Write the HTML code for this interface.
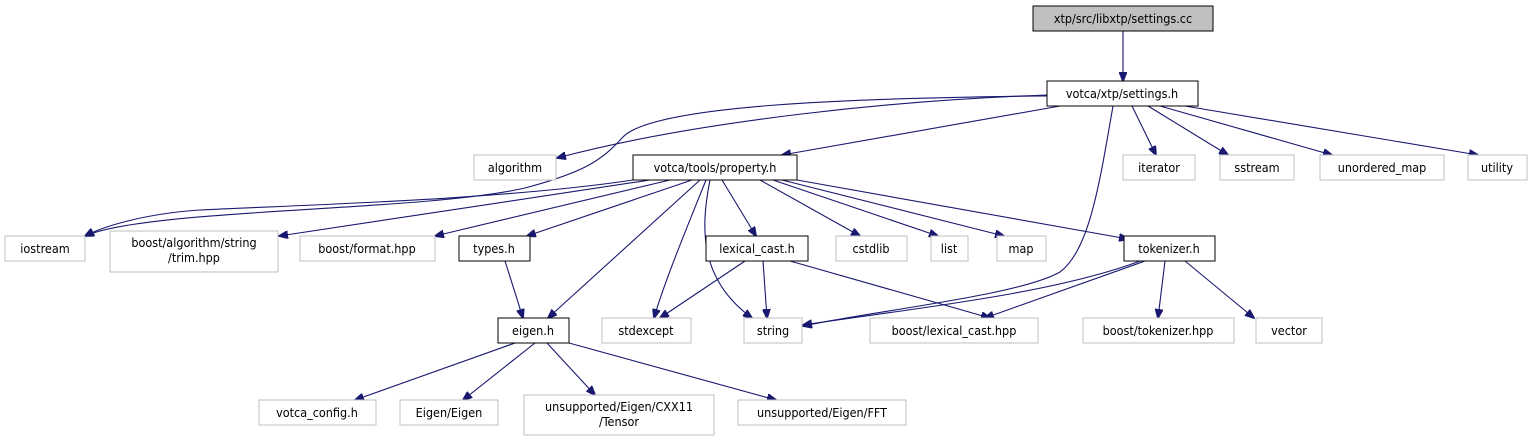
<!DOCTYPE html>
<html><head><meta charset="utf-8"><style>
html,body{margin:0;padding:0;background:#fff;}
svg{display:block;}
text{font-family:"DejaVu Sans Condensed","DejaVu Sans","Liberation Sans",sans-serif;font-size:12.5px;fill:#000;}
.g{fill:#fff;stroke:#bfbfbf;stroke-width:1}
.b{fill:#fff;stroke:#000;stroke-width:1}
.e{fill:none;stroke:#191970;stroke-width:1.1;marker-end:url(#a)}
</style></head><body>
<svg width="1533" height="440" viewBox="0 0 1533 440" xmlns="http://www.w3.org/2000/svg">
<defs><marker id="a" markerWidth="10" markerHeight="8" refX="9" refY="4" orient="auto" markerUnits="userSpaceOnUse"><path d="M0,0 L10,4 L0,8 z" fill="#191970" stroke="#191970"/></marker></defs>
<path class="e" d="M1123,31 L1123,81"/>
<path class="e" d="M1047,95 C900,100 700,120 557,158"/>
<path class="e" d="M1047,96 C850,98 650,105 622,138 C602,160 585,172 525,188 C420,212 150,208 85,236"/>
<path class="e" d="M1060,106 L782,155"/>
<path class="e" d="M1113,106 C1100,180 1090,250 1060,272 C1020,295 880,310 803,326"/>
<path class="e" d="M1132,106 L1156,155"/>
<path class="e" d="M1148,106 L1228,155"/>
<path class="e" d="M1160,106 L1332,155"/>
<path class="e" d="M1185,106 L1478,155"/>
<path class="e" d="M633,180 C500,200 300,205 200,210 C140,214 100,228 85,236"/>
<path class="e" d="M650,180 L279,236"/>
<path class="e" d="M670,180 L435,236"/>
<path class="e" d="M692,180 L527,236"/>
<path class="e" d="M700,180 L548,318"/>
<path class="e" d="M706,180 C690,220 665,280 654,318"/>
<path class="e" d="M710,180 C700,230 700,280 752,318"/>
<path class="e" d="M722,180 L756,236"/>
<path class="e" d="M760,180 L860,236"/>
<path class="e" d="M773,180 L938,236"/>
<path class="e" d="M782,180 L1004,236"/>
<path class="e" d="M797,180 L1128,239"/>
<path class="e" d="M505,261 L523,318"/>
<path class="e" d="M745,261 L660,318"/>
<path class="e" d="M763,261 L767,318"/>
<path class="e" d="M790,261 L990,318"/>
<path class="e" d="M1140,261 C1050,295 900,310 803,325"/>
<path class="e" d="M1145,261 L985,318"/>
<path class="e" d="M1165,261 L1158,318"/>
<path class="e" d="M1185,261 L1254,318"/>
<path class="e" d="M515,343 L355,400"/>
<path class="e" d="M535,343 L463,400"/>
<path class="e" d="M547,343 L595,395"/>
<path class="e" d="M569,343 L776,400"/>
<rect x="1033" y="6" width="180" height="25" fill="#bfbfbf" stroke="#000"/><text x="1123" y="23" text-anchor="middle">xtp/src/libxtp/settings.cc</text>
<rect class="b" x="1047" y="81" width="151" height="25"/><text x="1122" y="98" text-anchor="middle">votca/xtp/settings.h</text>
<rect class="g" x="474" y="155" width="82" height="25"/><text x="515" y="172" text-anchor="middle">algorithm</text>
<rect class="b" x="633" y="155" width="164" height="25"/><text x="715" y="172" text-anchor="middle">votca/tools/property.h</text>
<rect class="g" x="1123" y="155" width="72" height="25"/><text x="1159" y="172" text-anchor="middle">iterator</text>
<rect class="g" x="1220" y="155" width="74" height="25"/><text x="1257" y="172" text-anchor="middle">sstream</text>
<rect class="g" x="1320" y="155" width="124" height="25"/><text x="1382" y="172" text-anchor="middle">unordered_map</text>
<rect class="g" x="1468" y="155" width="59" height="25"/><text x="1497" y="172" text-anchor="middle">utility</text>
<rect class="g" x="5" y="236" width="80" height="25"/><text x="45" y="253" text-anchor="middle">iostream</text>
<rect class="g" x="110" y="231" width="168" height="41"/><text x="194" y="247" text-anchor="middle">boost/algorithm/string</text><text x="194" y="262" text-anchor="middle">/trim.hpp</text>
<rect class="g" x="300" y="236" width="135" height="25"/><text x="367" y="253" text-anchor="middle">boost/format.hpp</text>
<rect class="b" x="459" y="236" width="71" height="25"/><text x="494" y="253" text-anchor="middle">types.h</text>
<rect class="b" x="706" y="236" width="102" height="25"/><text x="757" y="253" text-anchor="middle">lexical_cast.h</text>
<rect class="g" x="836" y="236" width="71" height="25"/><text x="871" y="253" text-anchor="middle">cstdlib</text>
<rect class="g" x="931" y="236" width="37" height="25"/><text x="949" y="253" text-anchor="middle">list</text>
<rect class="g" x="997" y="236" width="49" height="25"/><text x="1021" y="253" text-anchor="middle">map</text>
<rect class="b" x="1124" y="236" width="91" height="25"/><text x="1169" y="253" text-anchor="middle">tokenizer.h</text>
<rect class="b" x="498" y="318" width="71" height="25"/><text x="533" y="335" text-anchor="middle">eigen.h</text>
<rect class="g" x="602" y="318" width="89" height="25"/><text x="646" y="335" text-anchor="middle">stdexcept</text>
<rect class="g" x="744" y="318" width="58" height="25"/><text x="773" y="335" text-anchor="middle">string</text>
<rect class="g" x="870" y="318" width="168" height="25"/><text x="954" y="335" text-anchor="middle">boost/lexical_cast.hpp</text>
<rect class="g" x="1083" y="318" width="151" height="25"/><text x="1158" y="335" text-anchor="middle">boost/tokenizer.hpp</text>
<rect class="g" x="1256" y="318" width="66" height="25"/><text x="1289" y="335" text-anchor="middle">vector</text>
<rect class="g" x="259" y="400" width="117" height="25"/><text x="317" y="417" text-anchor="middle">votca_config.h</text>
<rect class="g" x="400" y="400" width="98" height="25"/><text x="449" y="417" text-anchor="middle">Eigen/Eigen</text>
<rect class="g" x="524" y="395" width="190" height="40"/><text x="619" y="411" text-anchor="middle">unsupported/Eigen/CXX11</text><text x="619" y="426" text-anchor="middle">/Tensor</text>
<rect class="g" x="738" y="400" width="168" height="25"/><text x="822" y="417" text-anchor="middle">unsupported/Eigen/FFT</text>
</svg>
</body></html>
